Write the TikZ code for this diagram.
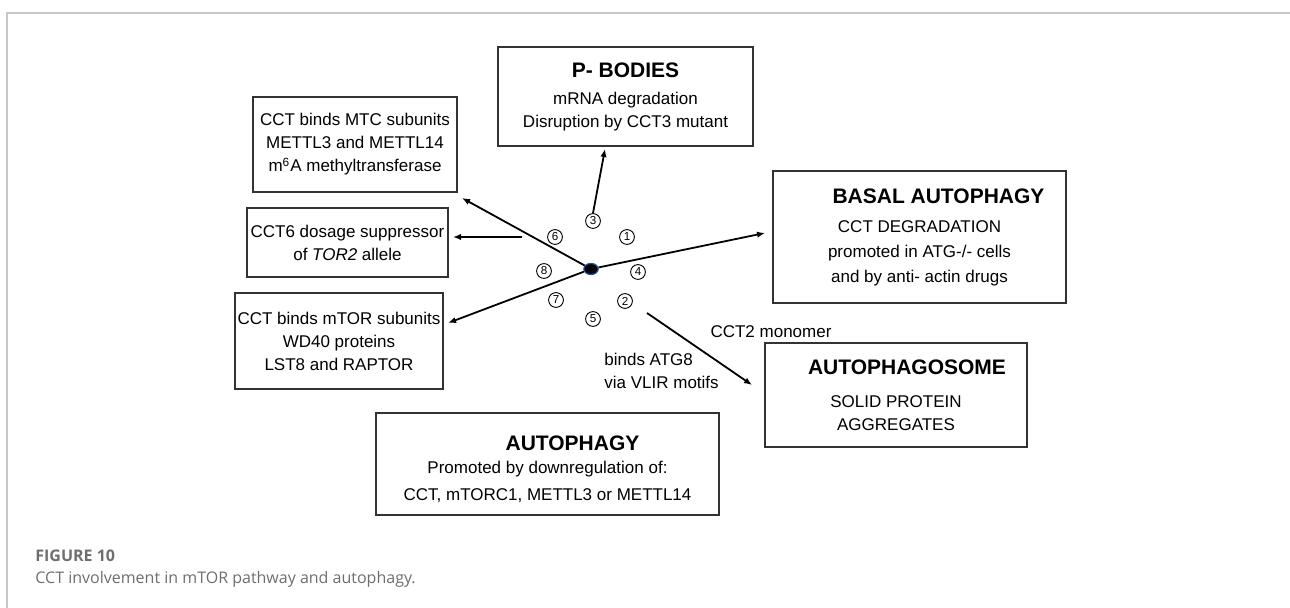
\documentclass[tikz,border=0pt]{standalone}
\usepackage{fontspec}
\setmainfont{Liberation Sans}
\newfontfamily\capfont{Open Sans}
\usetikzlibrary{arrows.meta, shapes.geometric}
\definecolor{framegrey}{HTML}{C8C8C8}
\definecolor{capgrey}{HTML}{6E6E6E}
\definecolor{boxline}{HTML}{333333}
\definecolor{hubfill}{HTML}{050508}
\definecolor{hubline}{HTML}{1E4FA0}
\newcommand{\boxtitle}[1]{{\fontsize{10.5}{13}\selectfont\bfseries #1}}
\tikzset{
  infobox/.style={draw=boxline, line width=0.7pt, align=center, inner sep=0pt, font=\fontsize{8.5}{11.5}\selectfont},
  numcirc/.style={circle, draw, line width=0.45pt, inner sep=0pt, minimum size=7.4pt, font=\fontsize{5.8}{5.8}\selectfont},
  link/.style={line width=0.9pt, -{Latex[length=4pt, width=3.2pt]}},
  plaintext/.style={font=\fontsize{8.5}{11.5}\selectfont, inner sep=0pt},
}

\begin{document}
\begin{tikzpicture}[x=0.5pt, y=-0.5pt]
\useasboundingbox (0,0) rectangle (1290,608);
\draw[framegrey, line width=1pt] (7,608) -- (7,13) -- (1290,13);

% boxes
\node[infobox, minimum width=127.5pt, minimum height=49.5pt] (pbodies) at (625.5,96.5)
  {\boxtitle{P- BODIES}\\[2pt] mRNA degradation\\ Disruption by CCT3 mutant};
\node[infobox, minimum width=102pt, minimum height=47.5pt] (mtc) at (355,144.5)
  {CCT binds MTC subunits\\ METTL3 and METTL14\\ m\textsuperscript{6}A methyltransferase};
\node[infobox, minimum width=100.5pt, minimum height=34.5pt] (cct6) at (347.5,242.5)
  {CCT6 dosage suppressor\\ of \textit{TOR2} allele};
\node[infobox, minimum width=104pt, minimum height=48pt] (mtor) at (339,341)
  {CCT binds mTOR subunits\\ WD40 proteins\\ LST8 and RAPTOR};
\node[infobox, minimum width=146.5pt, minimum height=66pt] (basal) at (919.5,237)
  {\hspace*{19pt}\boxtitle{BASAL AUTOPHAGY}\\[3pt] CCT DEGRADATION\\[1pt] promoted in ATG-/- cells\\[1pt] and by anti- actin drugs};
\node[infobox, minimum width=131pt, minimum height=52pt] (phagosome) at (896,395)
  {\hspace*{11pt}\boxtitle{AUTOPHAGOSOME}\\[5pt] SOLID PROTEIN\\ AGGREGATES};
\node[infobox, minimum width=171.5pt, minimum height=51pt] (autophagy) at (547.5,464)
  {\rule{0pt}{12.5pt}\hspace*{25pt}\boxtitle{AUTOPHAGY}\\ Promoted by downregulation of:\\[2pt] CCT, mTORC1, METTL3 or METTL14};

% hub and numbers
\node[ellipse, fill=hubfill, draw=hubline, line width=0.6pt, minimum width=7.2pt, minimum height=5.5pt, inner sep=0pt] (hub) at (591,269) {};
\node[numcirc] (c1) at (627,237) {1};
\node[numcirc] (c2) at (625,301) {2};
\node[numcirc] (c3) at (593,221) {3};
\node[numcirc] (c4) at (638,272) {4};
\node[numcirc] (c5) at (593,319) {5};
\node[numcirc] (c6) at (555,237) {6};
\node[numcirc] (c7) at (556,300) {7};
\node[numcirc] (c8) at (544,271) {8};

% arrow ends
\coordinate (mtcTip) at (462,198);
\coordinate (cct6Tail) at (522,237);
\coordinate (cct6Tip) at (453,237);
\coordinate (mtorTip) at (448,323);
\coordinate (basalTip) at (765,233);
\coordinate (pbTip) at (605,149);
\coordinate (phagTail) at (647,313);
\coordinate (phagTip) at (752,385);

\draw[link] (hub) -- (mtcTip);
\draw[link] (cct6Tail) -- (cct6Tip);
\draw[link] (hub) -- (mtorTip);
\draw[link] (hub) -- (basalTip);
\draw[link] (c3.north) -- (pbTip);
\draw[link] (phagTail) -- (phagTip);

% labels
\node[plaintext, anchor=base] (monomer) at (771,338) {CCT2 monomer};
\node[plaintext, align=left, anchor=west] (atg8) at (604,371) {binds ATG8\\ via VLIR motifs};

% caption
\node[anchor=base west, inner sep=0pt, text=capgrey, font={\capfont\bfseries\fontsize{8}{9}\selectfont}] (figno) at (35,561) {FIGURE 10};
\node[anchor=base west, inner sep=0pt, text=capgrey, font={\capfont\fontsize{8}{9}\selectfont}] (figcap) at (35,583) {CCT involvement in mTOR pathway and autophagy.};
\end{tikzpicture}
\end{document}
